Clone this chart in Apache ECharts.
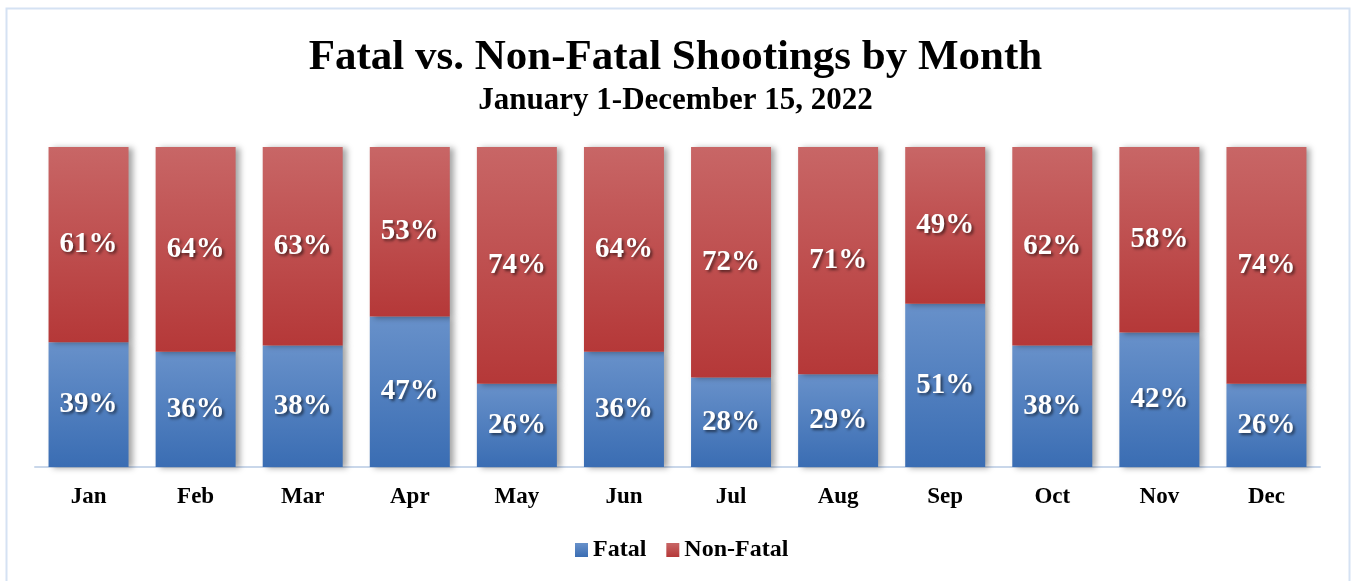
<!DOCTYPE html>
<html>
<head>
<meta charset="utf-8">
<script src="https://cdn.jsdelivr.net/npm/echarts@6/dist/echarts.min.js"></script>
<style>
html, body { margin: 0; padding: 0; background: #fff; }
#chart { width: 1351px; height: 581px; }
</style>
</head>
<body>
<div id="chart"></div>
<script>
const months = ['Jan', 'Feb', 'Mar', 'Apr', 'May', 'Jun', 'Jul', 'Aug', 'Sep', 'Oct', 'Nov', 'Dec']
const fatal = [39, 36, 38, 47, 26, 36, 28, 29, 51, 38, 42, 26]
const nonFatal = [61, 64, 63, 53, 74, 64, 72, 71, 49, 62, 58, 74]

const serif = '"Liberation Serif", "Times New Roman", serif'

function grad(top, bottom) {
    return new echarts.graphic.LinearGradient(0, 0, 0, 1, [
        { offset: 0, color: top },
        { offset: 1, color: bottom }
    ])
}

const labelStyle = {
    show: true,
    position: 'inside',
    formatter: '{c}%',
    color: '#fff',
    fontFamily: serif,
    fontWeight: 'bold',
    fontSize: 29,
    textShadowColor: 'rgba(0,0,0,0.55)',
    textShadowBlur: 3,
    textShadowOffsetX: 2,
    textShadowOffsetY: 2
}

const barShadow = {
    shadowColor: 'rgba(0,0,0,0.35)',
    shadowBlur: 6,
    shadowOffsetX: 4,
    shadowOffsetY: 1
}

const chart = echarts.init(document.getElementById('chart'))
chart.setOption({
    animation: false,
    graphic: [{
        type: 'rect',
        shape: { x: 6.5, y: 8.5, width: 1343, height: 580 },
        style: { fill: 'none', stroke: '#d5e2f3', lineWidth: 2 },
        silent: true
    }],
    title: [
        {
            text: 'Fatal vs. Non-Fatal Shootings by Month',
            left: 'center',
            top: 31,
            textStyle: { fontFamily: serif, fontWeight: 'bold', fontSize: 43, color: '#000' }
        },
        {
            text: 'January 1-December 15, 2022',
            left: 'center',
            top: 80,
            textStyle: { fontFamily: serif, fontWeight: 'bold', fontSize: 31, color: '#000' }
        }
    ],
    legend: {
        top: 533,
        left: 570,
        itemWidth: 13,
        itemHeight: 14,
        itemGap: 20,
        icon: 'rect',
        textStyle: { fontFamily: serif, fontWeight: 'bold', fontSize: 24, color: '#000' },
        data: ['Fatal', 'Non-Fatal']
    },
    grid: { left: 35, right: 31, top: 147, bottom: 114 },
    xAxis: {
        type: 'category',
        data: months,
        axisTick: { show: false },
        axisLine: { lineStyle: { color: '#c9d7ea', width: 2 } },
        axisLabel: { fontFamily: serif, fontWeight: 'bold', fontSize: 23, color: '#000', margin: 19 }
    },
    yAxis: {
        type: 'value',
        min: 0,
        max: 100,
        show: false,
        splitLine: { show: false }
    },
    series: [
        {
            name: 'Fatal',
            type: 'bar',
            stack: 'total',
            barWidth: 80,
            data: fatal,
            itemStyle: Object.assign({ color: grad('#6891ca', '#3a6db3') }, barShadow),
            label: labelStyle
        },
        {
            name: 'Non-Fatal',
            type: 'bar',
            stack: 'total',
            barWidth: 80,
            data: nonFatal,
            itemStyle: Object.assign({ color: grad('#c86666', '#b53838') }, barShadow),
            label: labelStyle
        }
    ]
})
</script>
</body>
</html>
